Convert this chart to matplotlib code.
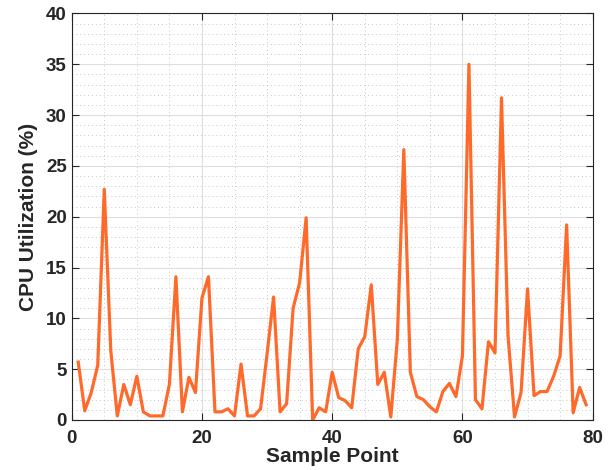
import numpy as np
import matplotlib
matplotlib.use("Agg")
import matplotlib.pyplot as plt
from matplotlib.ticker import MultipleLocator

# CPU utilization per sample point
sample_points = list(range(1, 80))
cpu_util = [
    5.7, 0.9, 2.7, 5.4, 22.7, 6.8, 0.4, 3.5, 1.5, 4.3,
    0.8, 0.4, 0.4, 0.4, 3.5, 14.1, 0.8, 4.2, 2.7, 12.0,
    14.1, 0.8, 0.8, 1.1, 0.4, 5.5, 0.4, 0.4, 1.1, 6.5,
    12.1, 0.8, 1.6, 11.0, 13.5, 19.9, 0.0, 1.2, 0.8, 4.7,
    2.2, 1.9, 1.2, 7.0, 8.2, 13.3, 3.5, 4.7, 0.3, 7.9,
    26.6, 4.7, 2.3, 2.0, 1.3, 0.8, 2.8, 3.6, 2.3, 6.3,
    35.0, 2.0, 1.1, 7.7, 6.6, 31.7, 8.3, 0.3, 2.7, 12.9,
    2.4, 2.8, 2.8, 4.3, 6.3, 19.2, 0.7, 3.2, 1.5,
]

plt.rcParams['font.family'] = ['Liberation Sans', 'DejaVu Sans']
plt.rcParams['font.weight'] = 'bold'

fig = plt.figure(figsize=(6.15, 4.7), dpi=100)
ax = fig.add_axes([0.1166, 0.1064, 0.8471, 0.8649])

ax.plot(sample_points, cpu_util, color='#FF6A2B', linewidth=2.3)

ax.set_xlim(0, 80)
ax.set_ylim(0, 40)
ax.xaxis.set_major_locator(MultipleLocator(20))
ax.xaxis.set_minor_locator(MultipleLocator(5))
ax.yaxis.set_major_locator(MultipleLocator(5))
ax.yaxis.set_minor_locator(MultipleLocator(1))

ax.grid(which='major', color='#dedede', linestyle='-', linewidth=0.8)
ax.grid(which='minor', color='#c8c8c8', linestyle=(0, (1, 3)), linewidth=0.7)
ax.set_axisbelow(True)

dark = '#262626'
for s in ax.spines.values():
    s.set_color(dark)
    s.set_linewidth(0.8)
ax.tick_params(which='both', direction='in', top=True, right=True,
               colors=dark, labelsize=13.5, width=0.8)
ax.tick_params(which='major', length=5)
ax.tick_params(which='minor', length=0)
ax.tick_params(axis='x', which='major', pad=7)
for lbl in ax.get_xticklabels() + ax.get_yticklabels():
    lbl.set_fontweight('bold')

ax.set_xlabel('Sample Point', fontsize=15, fontweight='bold', color=dark, labelpad=0)
ax.set_ylabel('CPU Utilization (%)', fontsize=15, fontweight='bold', color=dark, labelpad=6)

fig.savefig('out.png', dpi=100)
